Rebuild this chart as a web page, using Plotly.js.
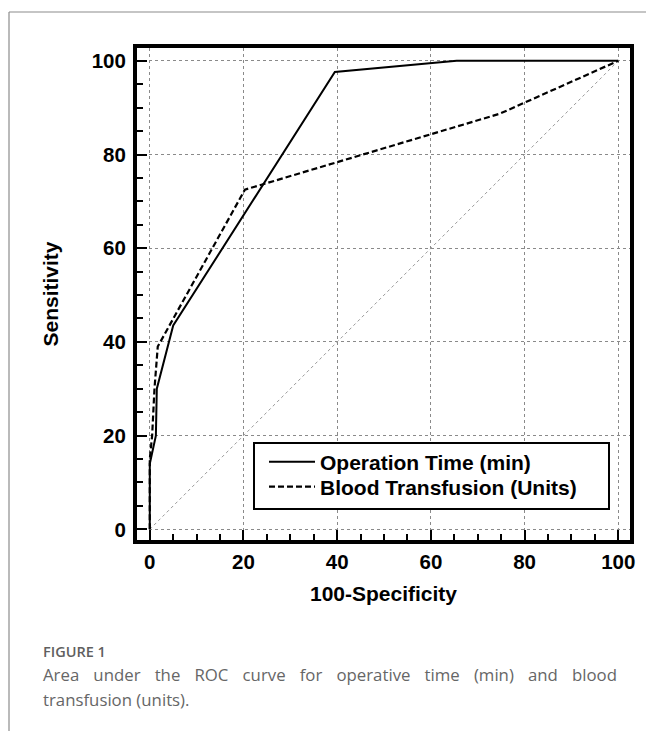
<!DOCTYPE html>
<html><head><meta charset="utf-8">
<script src="https://cdn.plot.ly/plotly-3.0.1.min.js"></script>
<style>html,body{margin:0;padding:0;background:#fff;} #chart{width:646px;height:731px;}</style>
</head><body><div id="chart"></div>
<script>
// ---- data ----
const opTimeName = 'Operation Time (min)';
const opTimeX = [0, 0, 1.3, 1.5, 5, 39.5, 65.5, 100];
const opTimeY = [0, 14, 20, 30, 43.5, 97.6, 100, 100];
const bloodName = 'Blood Transfusion (Units)';
const bloodX = [0, 0, 0.5, 1, 1.7, 20.3, 74.7, 100];
const bloodY = [0, 15, 20, 30, 39, 72.5, 88.7, 100];
const refX = [0, 100];
const refY = [0, 100];
const tickValues = [0, 20, 40, 60, 80, 100];
const tickLabels = ['0', '20', '40', '60', '80', '100'];
const xTitle = '100-Specificity';
const yTitle = 'Sensitivity';
const figLabel = 'FIGURE 1';
const captionLine1 = 'Area under the ROC curve for operative time (min) and blood';
const captionLine2 = 'transfusion (units).';

// ---- layout helpers ----
const W = 646, H = 731, L = 137, R = 16, T = 48, B = 191;
const pw = W - L - R, ph = H - T - B;
const px2x = p => (p - L) / pw;
const py2y = p => (H - B - p) / ph;

const capFont = "'Open Sans', 'Noto Sans', sans-serif";
const capSize = 16.8;
const capLeft = 41;
const ctx = document.createElement('canvas').getContext('2d');
ctx.font = capSize + "px 'Open Sans'";
const natW = ctx.measureText(captionLine1).width;
const nSpaces = captionLine1.split(' ').length - 1;
const ws = Math.max(0, (617 - 43 - natW) / nSpaces);

const chartFont = 'Liberation Sans, Arial, sans-serif';
const boldFont = (s) => ({ family: chartFont, size: s, color: '#000', weight: 'bold' });

const traces = [
  { x: refX, y: refY, mode: 'lines', showlegend: false, hoverinfo: 'skip',
    line: { color: '#9a9a9a', width: 1, dash: 'dot' } },
  { x: opTimeX, y: opTimeY, mode: 'lines', name: opTimeName, legend: 'legend',
    line: { color: '#000', width: 2 } },
  { x: bloodX, y: bloodY, mode: 'lines', name: bloodName, legend: 'legend2',
    line: { color: '#000', width: 2.2, dash: '6px,3px' } }
];

const axisCommon = {
  tickmode: 'array', tickvals: tickValues, ticktext: tickLabels,
  ticks: 'inside', ticklen: 10, tickwidth: 2, tickcolor: '#000',
  minor: { dtick: 5, ticks: 'inside', ticklen: 6, tickwidth: 2, tickcolor: '#000', showgrid: false },
  showgrid: true, gridcolor: '#8a8a8a', gridwidth: 1, griddash: 'dot',
  zeroline: false, showline: true, mirror: true, linecolor: '#000', linewidth: 4,
  tickfont: boldFont(20.5),
  automargin: false
};

const legendCommon = {
  xanchor: 'left', yanchor: 'middle', bgcolor: 'rgba(0,0,0,0)', borderwidth: 0,
  font: boldFont(21), itemwidth: 46
};

const layout = {
  width: W, height: H,
  margin: { l: L, r: R, t: T, b: B },
  paper_bgcolor: '#fff', plot_bgcolor: '#fff',
  xaxis: Object.assign({}, axisCommon, {
    range: [-2.73, 102.5],
    title: { text: xTitle, font: boldFont(21), standoff: 16 }
  }),
  yaxis: Object.assign({}, axisCommon, {
    range: [-2.28, 102.73], ticklabelstandoff: 3,
    title: { text: yTitle, font: boldFont(21), standoff: 28 }
  }),
  showlegend: true,
  legend: Object.assign({}, legendCommon, { x: px2x(264), y: py2y(462) }),
  legend2: Object.assign({}, legendCommon, { x: px2x(264), y: py2y(487) }),
  shapes: [
    { type: 'rect', xref: 'paper', yref: 'paper', layer: 'above',
      x0: px2x(254), x1: px2x(609), y0: py2y(443), y1: py2y(509),
      fillcolor: '#fff', line: { color: '#000', width: 2 } },
    { type: 'line', xref: 'paper', yref: 'paper', x0: px2x(9), x1: px2x(W + 2), y0: py2y(12), y1: py2y(12),
      line: { color: '#8c8c8c', width: 1.2 } },
    { type: 'line', xref: 'paper', yref: 'paper', x0: px2x(9), x1: px2x(9), y0: py2y(12), y1: py2y(H + 2),
      line: { color: '#8c8c8c', width: 1.2 } }
  ],
  annotations: [
    { xref: 'paper', yref: 'paper', x: px2x(capLeft), y: py2y(651), xanchor: 'left', yanchor: 'middle',
      showarrow: false, text: figLabel,
      font: { family: capFont, size: 14.5, color: '#5f5f5f', weight: 600 } },
    { xref: 'paper', yref: 'paper', x: px2x(capLeft), y: py2y(674.5), xanchor: 'left', yanchor: 'middle',
      showarrow: false, text: '<span style="word-spacing:' + ws.toFixed(2) + 'px">' + captionLine1 + '</span>',
      font: { family: capFont, size: capSize, color: '#666' } },
    { xref: 'paper', yref: 'paper', x: px2x(capLeft), y: py2y(699.5), xanchor: 'left', yanchor: 'middle',
      showarrow: false, text: captionLine2,
      font: { family: capFont, size: capSize, color: '#666' } }
  ]
};

Plotly.newPlot('chart', traces, layout, { displayModeBar: false, staticPlot: true });
</script>
</body></html>
